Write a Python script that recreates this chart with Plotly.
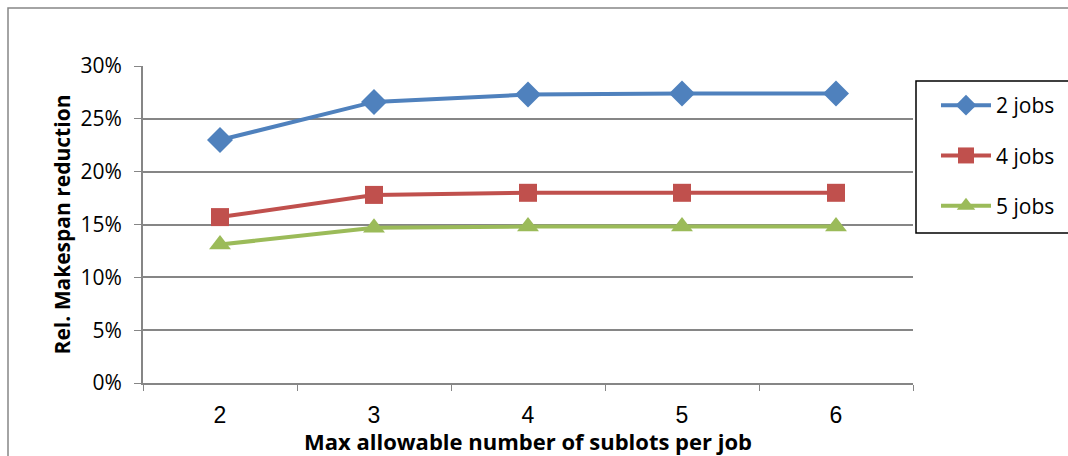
import plotly.graph_objects as go

# Max allowable number of sublots per job
sublots = ["2", "3", "4", "5", "6"]

# Relative makespan reduction per job count
jobs2 = [0.230, 0.266, 0.273, 0.274, 0.274]
jobs4 = [0.157, 0.178, 0.180, 0.180, 0.180]
jobs5 = [0.131, 0.147, 0.148, 0.148, 0.148]

series = [
    ("2 jobs", jobs2, "#4F81BD", "diamond", 20),
    ("4 jobs", jobs4, "#C0504D", "square", 18),
    ("5 jobs", jobs5, "#9BBB59", "triangle-up", 19),
]

fig = go.Figure()
for i, (name, vals, color, sym, size) in enumerate(series):
    fig.add_trace(go.Scatter(
        x=sublots, y=vals, name=name, mode="lines+markers",
        line=dict(color=color, width=4),
        marker=dict(symbol=sym, size=size, color=color),
        legendgroup=f"g{i}",
    ))

W, H = 1068, 456
L, R, T, B = 143, 155, 66, 73
pw, ph = W - L - R, H - T - B

def px(x):
    return (x - L) / pw

def py(y):
    return (H - B - y) / ph

fig.update_layout(
    width=W, height=H,
    margin=dict(l=L, r=R, t=T, b=B),
    paper_bgcolor="white", plot_bgcolor="white",
    font=dict(family="Open Sans, sans-serif", color="black"),
    showlegend=True,
    legend=dict(
        xref="container", yref="container",
        x=936 / W, y=1 - 85 / H, xanchor="left", yanchor="top",
        borderwidth=0, bgcolor="rgba(0,0,0,0)",
        font=dict(size=21), tracegroupgap=20,
        itemwidth=50,
    ),
    xaxis=dict(
        type="category", tickson="boundaries", ticks="outside", ticklen=6,
        tickcolor="#868686", showline=True, linecolor="#868686", linewidth=2,
        showgrid=False, range=[-0.5, 4.5],
        tickfont=dict(family="Liberation Sans, Arial, sans-serif", size=23),
        ticklabelstandoff=10,
        title=dict(text="Max allowable number of sublots per job",
                   font=dict(family="Open Sans, sans-serif", size=22, color="black",
                             weight="bold"),
                   standoff=0),
    ),
    yaxis=dict(
        range=[0, 0.30], dtick=0.05, tickformat=".0%",
        ticks="outside", ticklen=7, tickcolor="#868686",
        showline=True, linecolor="#868686", linewidth=2,
        showgrid=True, gridcolor="#868686", gridwidth=2,
        zeroline=False,
        tickfont=dict(size=21),
        ticklabelstandoff=8,
        title=dict(text="Rel. Makespan reduction",
                   font=dict(family="Open Sans, sans-serif", size=21, color="black",
                             weight="bold"),
                   standoff=4),
    ),
    shapes=[
        # outer chart frame
        dict(type="rect", xref="paper", yref="paper",
             x0=px(8), x1=px(1100), y0=py(480), y1=py(8),
             line=dict(color="#868686", width=1.5), layer="below"),
        # legend frame
        dict(type="rect", xref="paper", yref="paper",
             x0=px(916), x1=px(1080), y0=py(233), y1=py(81),
             line=dict(color="black", width=1.5), fillcolor="white", layer="below"),
    ],
)

fig.write_html("out.html")
